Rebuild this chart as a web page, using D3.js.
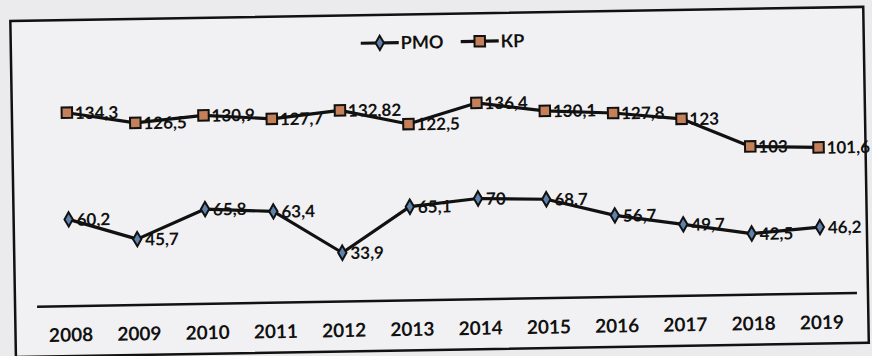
<!DOCTYPE html>
<html>
<head>
<meta charset="utf-8">
<script src="https://cdn.jsdelivr.net/npm/d3@7"></script>
<style>
  html, body { margin: 0; padding: 0; background: #ebebed; }
  svg { display: block; }
</style>
</head>
<body>
<svg id="chart" width="872" height="356"></svg>
<script>
const years = ["2008","2009","2010","2011","2012","2013","2014","2015","2016","2017","2018","2019"];
const rmoValues = [60.2, 45.7, 65.8, 63.4, 33.9, 65.1, 70, 68.7, 56.7, 49.7, 42.5, 46.2];
const krValues = [134.3, 126.5, 130.9, 127.7, 132.82, 122.5, 136.4, 130.1, 127.8, 123, 103, 101.6];
const rmoLabels = ["60,2","45,7","65,8","63,4","33,9","65,1","70","68,7","56,7","49,7","42,5","46,2"];
const krLabels = ["134,3","126,5","130,9","127,7","132,82","122,5","136,4","130,1","127,8","123","103","101,6"];
const seriesNames = ["РМО", "КР"];

const W = 872, H = 356;
const svg = d3.select("#chart");
const font = "Lato, 'Open Sans', sans-serif";

svg.append("rect").attr("width", W).attr("height", H).attr("fill", "#ebebed");

// whole sheet sits slightly tilted
const g = svg.append("g").attr("transform", `rotate(-0.95 ${W/2} ${H/2})`);

// frame
g.append("rect")
  .attr("x", 13).attr("y", 14).attr("width", 853).attr("height", 336)
  .attr("fill", "#f1f1f3").attr("stroke", "#111").attr("stroke-width", 2.5);

const x = d3.scalePoint().domain(years).range([68, 819]);
const y = d3.scaleLinear().domain([0, 200]).range([300, 12]);

// category axis
const xAxis = g.append("g").attr("transform", `translate(0,${y(0)})`)
  .call(d3.axisBottom(x).tickSize(0).tickPadding(22));
xAxis.select(".domain").attr("d", "M35,0H855").attr("stroke", "#111").attr("stroke-width", 2.5);
xAxis.selectAll("text")
  .attr("font-family", font).attr("font-size", 19).attr("font-weight", 700).attr("fill", "#111");

const line = d3.line().x((d, i) => x(years[i])).y(d => y(d));

function drawSeries(values, labels, shape, fill, size) {
  g.append("path").datum(values)
    .attr("d", line).attr("fill", "none")
    .attr("stroke", "#111").attr("stroke-width", 3.2).attr("stroke-linejoin", "round");
  g.selectAll(null).data(values).enter().append("path")
    .attr("transform", (d, i) => `translate(${x(years[i])},${y(d)})`)
    .attr("d", d3.symbol().type(shape).size(size))
    .attr("fill", fill).attr("stroke", "#111").attr("stroke-width", 2);
  g.selectAll(null).data(values).enter().append("text")
    .attr("x", (d, i) => x(years[i]) + 8)
    .attr("y", d => y(d))
    .attr("dy", "0.38em")
    .attr("font-family", font).attr("font-size", 17).attr("font-weight", 700)
    .attr("fill", "#111")
    .text((d, i) => labels[i]);
}

drawSeries(krValues, krLabels, d3.symbolSquare, "#c5805a", 110);
drawSeries(rmoValues, rmoLabels, d3.symbolDiamond, "#5f82ad", 60);

// legend
const legend = g.append("g").attr("transform", "translate(363,42)");
const items = [
  { name: seriesNames[0], shape: d3.symbolDiamond, fill: "#5f82ad", size: 60, dx: 0 },
  { name: seriesNames[1], shape: d3.symbolSquare, fill: "#c5805a", size: 110, dx: 100 }
];
items.forEach(it => {
  const lg = legend.append("g").attr("transform", `translate(${it.dx},0)`);
  lg.append("line").attr("x1", 0).attr("x2", 38).attr("y1", 0).attr("y2", 0)
    .attr("stroke", "#111").attr("stroke-width", 3.2);
  lg.append("path").attr("transform", "translate(19,0)")
    .attr("d", d3.symbol().type(it.shape).size(it.size))
    .attr("fill", it.fill).attr("stroke", "#111").attr("stroke-width", 2);
  lg.append("text").attr("x", 40).attr("y", 0).attr("dy", "0.36em")
    .attr("font-family", font).attr("font-size", 18).attr("font-weight", 700)
    .attr("fill", "#111").text(it.name);
});
</script>
</body>
</html>
